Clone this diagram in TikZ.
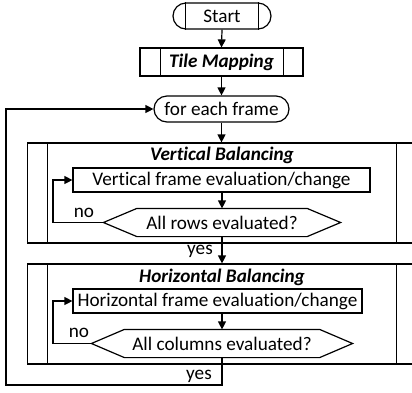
\documentclass[tikz,border=0pt]{standalone}
\usepackage{fontspec}
\setmainfont{Carlito}[Ligatures=NoCommon]
\usetikzlibrary{arrows.meta,calc}
\begin{document}
\begin{tikzpicture}[x=1pt,y=-1pt,
  line width=1.2pt,
  every node/.style={font=\fontsize{19.2}{21}\selectfont, inner sep=0pt},
  box/.style={draw, rectangle},
  term/.style={draw, rectangle, rounded corners=13pt},
  hexnode/.style={rectangle},
  flow/.style={-{Triangle[length=8pt,width=8pt]}},
  ttl/.style={font=\fontsize{19.2}{21}\selectfont\bfseries\itshape}]
\useasboundingbox (0,0) rectangle (412,392);
\begin{scope}
\clip (0,0) rectangle (412,392);
% nodes
\node[term, minimum width=98pt, minimum height=26pt] (start) at (222,16) {Start};
\draw ([xshift=13pt]start.north west) -- ([xshift=13pt]start.south west)
      ([xshift=-13pt]start.north east) -- ([xshift=-13pt]start.south east);
\node[box, minimum width=163pt, minimum height=28pt] (tile) at (221.5,62) {};
\node[ttl] (tiletxt) at (221.5,62) {Tile Mapping};
\draw ([xshift=21pt]tile.north west) -- ([xshift=21pt]tile.south west)
      ([xshift=-20pt]tile.north east) -- ([xshift=-20pt]tile.south east);
\node[term, minimum width=135pt, minimum height=26pt] (frame) at (221.5,109) {for each frame};

% vertical balancing
\node[box, minimum width=389pt, minimum height=100pt] (vbal) at (222,193) {};
\draw ([xshift=20.5pt]vbal.north west) -- ([xshift=20.5pt]vbal.south west)
      ([xshift=-20.5pt]vbal.north east) -- ([xshift=-20.5pt]vbal.south east);
\node[ttl] (vtitle) at (222,155) {Vertical Balancing};
\node[box, minimum width=297pt, minimum height=24pt] (vbox) at (221.5,180) {Vertical frame evaluation/change};
\node[hexnode, minimum width=169pt, minimum height=27pt] (vhex) at (222,222.5) {All rows evaluated?};
\coordinate (vtipl) at ([xshift=-33.5pt]vhex.west);
\coordinate (vtipr) at ([xshift=33.5pt]vhex.east);
\draw (vhex.north west) -- (vhex.north east) -- (vtipr) -- (vhex.south east) -- (vhex.south west) -- (vtipl) -- cycle;
\coordinate (vloop) at (53,222.5);

% horizontal balancing
\node[box, minimum width=389pt, minimum height=100pt] (hbal) at (222,314) {};
\draw ([xshift=20.5pt]hbal.north west) -- ([xshift=20.5pt]hbal.south west)
      ([xshift=-20.5pt]hbal.north east) -- ([xshift=-20.5pt]hbal.south east);
\node[ttl] (htitle) at (222,277) {Horizontal Balancing};
\node[box, minimum width=289pt, minimum height=24pt] (hbox) at (217.5,301) {Horizontal frame evaluation/change};
\node[hexnode, minimum width=194pt, minimum height=27pt] (hhex) at (222,343.5) {All columns evaluated?};
\coordinate (htipl) at ([xshift=-33pt]hhex.west);
\coordinate (htipr) at ([xshift=33pt]hhex.east);
\draw (hhex.north west) -- (hhex.north east) -- (htipr) -- (hhex.south east) -- (hhex.south west) -- (htipl) -- cycle;
\coordinate (hloop) at (53,343.5);
\coordinate (ycorner) at (222,385);
\coordinate (outer) at (6,385);

% connectors
\draw[flow] (start.south) -- (tile.north);
\draw[flow] (tile.south) -- (frame.north);
\draw[flow] (frame.south) -- (frame.south |- vbal.north);
\draw[flow] (vbox.south -| vhex.north) -- (vhex.north);
\draw[flow] (vtipl) -- (vloop) |- (vbox.west);
\draw[flow] (vhex.south) -- (vhex.south |- hbal.north);
\draw[flow] (hbox.south -| hhex.north) -- (hhex.north);
\draw[flow] (htipl) -- (hloop) |- (hbox.west);
\draw[flow] (hhex.south) -- (ycorner) -- (outer) |- (frame.west);

% labels
\node (no1) at (84,213) {no};
\node (no2) at (79,333) {no};
\node (yes1) at (200,251) {yes};
\node (yes2) at (199,376) {yes};
\end{scope}
\end{tikzpicture}
\end{document}
